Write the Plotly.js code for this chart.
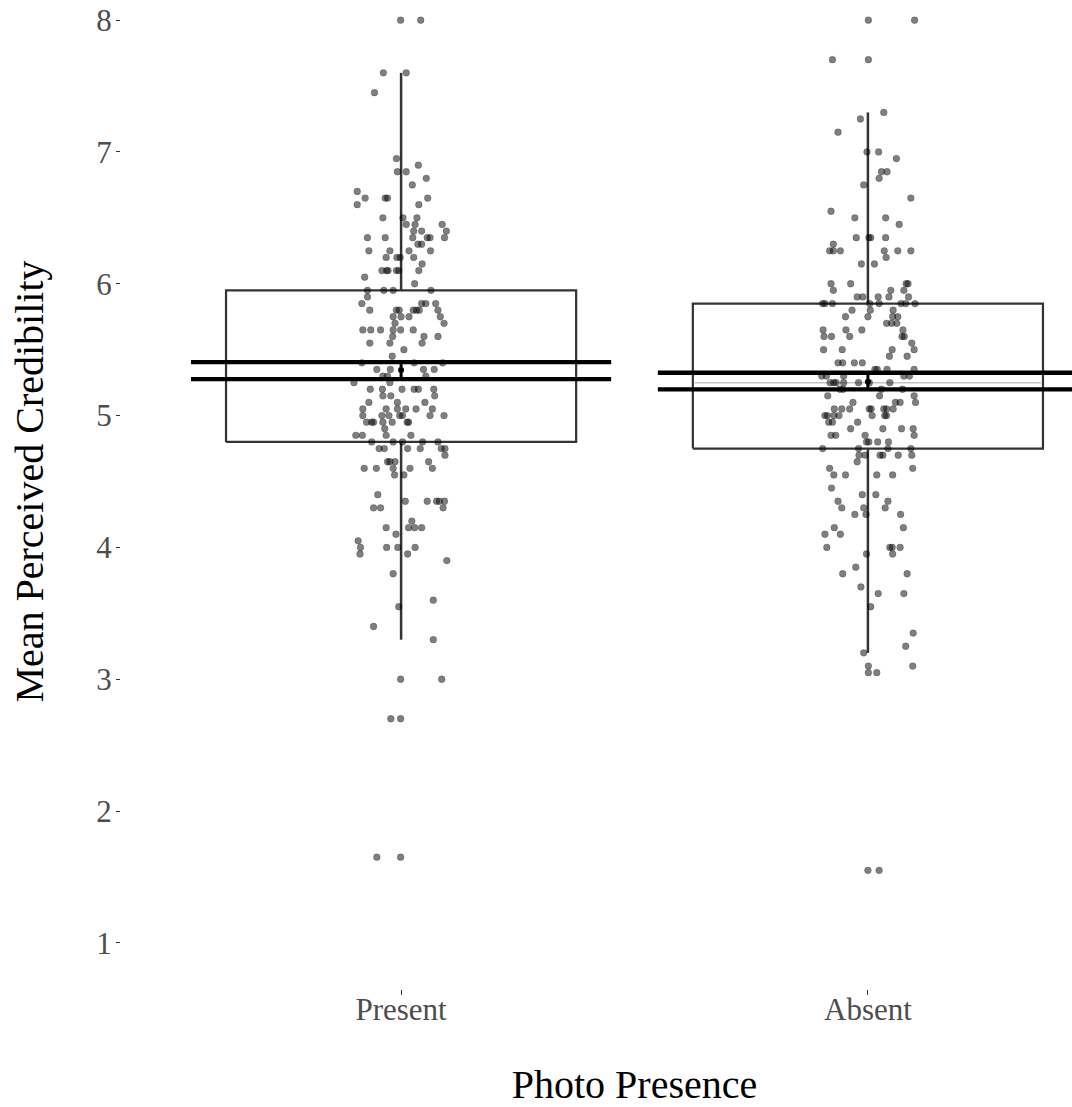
<!DOCTYPE html>
<html>
<head>
<meta charset="utf-8">
<script src="https://cdn.plot.ly/plotly-3.0.1.min.js"></script>
<style>
html, body { margin: 0; padding: 0; overflow: hidden; background: #fff; }
#chart { width: 1148px; height: 1133px; margin-top: -26px; }
</style>
</head>
<body>
<div id="chart"></div>
<script>
// ---------------- data ----------------
const categories = ['Present', 'Absent'];
const tickValuesY = [1, 2, 3, 4, 5, 6, 7, 8];

// box summary per category
const q1 = [4.80, 4.75];
const median = [5.40, 5.25];
const q3 = [5.95, 5.85];
const whiskerLow = [3.30, 3.20];
const whiskerHigh = [7.60, 7.30];

// mean with confidence interval per category
const meanValue = [5.345, 5.257];
const ciLow = [5.277, 5.199];
const ciHigh = [5.406, 5.325];

// raw observations: [value, [jitter offsets of observations with that value]]
const presentRows = [
  [8.00, [-0.001, 0.042]],
  [7.60, [-0.038, 0.011]],
  [7.45, [-0.057]],
  [6.95, [-0.010]],
  [6.90, [0.037]],
  [6.85, [-0.008, 0.011]],
  [6.80, [0.054]],
  [6.75, [0.024]],
  [6.70, [-0.094]],
  [6.65, [-0.077, -0.034, -0.029, 0.057]],
  [6.60, [-0.094, 0.038]],
  [6.50, [-0.039, 0.004, 0.034]],
  [6.45, [0.011, 0.030, 0.088]],
  [6.40, [0.027, 0.044, 0.097]],
  [6.35, [-0.072, -0.034, 0.025, 0.056, 0.062, 0.093]],
  [6.30, [0.036, 0.044]],
  [6.25, [-0.069, -0.024, 0.017, 0.063]],
  [6.20, [-0.032, -0.009, -0.002, 0.027]],
  [6.15, [0.045]],
  [6.10, [-0.041, -0.031, -0.028, -0.010, -0.005, 0.038]],
  [6.05, [-0.078]],
  [6.00, [0.029]],
  [5.95, [-0.072, -0.037, -0.017, 0.064]],
  [5.90, [-0.072]],
  [5.85, [-0.084, 0.044, 0.053, 0.074]],
  [5.80, [-0.067, -0.010, -0.004, 0.026, 0.033, 0.039, 0.079]],
  [5.75, [-0.017, 0.000, 0.017, 0.084]],
  [5.70, [-0.013, 0.092]],
  [5.65, [-0.082, -0.065, -0.044, -0.017, -0.001, 0.026]],
  [5.60, [-0.018, 0.049, 0.079]],
  [5.55, [-0.067, -0.024, 0.045]],
  [5.50, [0.006]],
  [5.45, [-0.019]],
  [5.40, [-0.084, 0.028, 0.089]],
  [5.35, [-0.052, -0.023, 0.048, 0.071]],
  [5.30, [-0.039, -0.029, 0.053]],
  [5.25, [-0.101, -0.024]],
  [5.20, [-0.066, -0.040, 0.002, 0.028, 0.037, 0.070]],
  [5.15, [-0.039, -0.022, 0.072]],
  [5.10, [-0.069, -0.008, 0.051]],
  [5.05, [-0.082, -0.032, -0.008, 0.010, 0.032, 0.067]],
  [5.00, [-0.082, -0.041, -0.026, -0.003, 0.003, 0.062, 0.092]],
  [4.95, [-0.074, -0.063, -0.059, -0.039, -0.019, 0.013, 0.016]],
  [4.90, [-0.035]],
  [4.85, [-0.097, -0.083, -0.032, 0.021]],
  [4.80, [-0.063, -0.017, 0.003, 0.046, 0.079]],
  [4.75, [-0.047, -0.036, 0.014, 0.041, 0.086, 0.094]],
  [4.70, [0.094]],
  [4.65, [-0.029, -0.024, -0.013, 0.059]],
  [4.60, [-0.079, -0.053, -0.017, 0.019, 0.067]],
  [4.55, [-0.014, 0.006]],
  [4.40, [-0.050]],
  [4.35, [0.009, 0.056, 0.076, 0.082, 0.093]],
  [4.30, [-0.059, -0.044, 0.090]],
  [4.20, [0.023]],
  [4.15, [-0.032, 0.016, 0.029, 0.044]],
  [4.10, [-0.011]],
  [4.05, [-0.092]],
  [4.00, [-0.087, -0.031, -0.007, 0.030]],
  [3.95, [-0.088, 0.014]],
  [3.90, [0.098]],
  [3.80, [-0.017]],
  [3.60, [0.069]],
  [3.55, [-0.005]],
  [3.40, [-0.059]],
  [3.30, [0.069]],
  [3.00, [-0.001, 0.087]],
  [2.70, [-0.022, -0.001]],
  [1.65, [-0.052, -0.001]]
];

const absentRows = [
  [8.00, [0.001, 0.100]],
  [7.70, [-0.076, 0.001]],
  [7.30, [0.034]],
  [7.25, [-0.016]],
  [7.15, [-0.064]],
  [7.00, [-0.002, 0.023]],
  [6.95, [0.061]],
  [6.85, [0.029, 0.041]],
  [6.80, [0.024]],
  [6.75, [-0.009]],
  [6.65, [0.092]],
  [6.55, [-0.079]],
  [6.50, [-0.028, 0.038]],
  [6.45, [0.067]],
  [6.35, [-0.025, 0.002, 0.006, 0.038]],
  [6.30, [-0.074]],
  [6.25, [-0.082, -0.074, -0.059, 0.035, 0.064, 0.092]],
  [6.20, [0.039]],
  [6.15, [-0.014, 0.014]],
  [6.00, [-0.079, -0.037, 0.082, 0.086]],
  [5.95, [-0.074, 0.049, 0.077]],
  [5.90, [-0.023, -0.011, 0.022, 0.045, 0.087]],
  [5.85, [-0.097, -0.092, -0.076, 0.004, 0.024, 0.071, 0.081, 0.101]],
  [5.80, [-0.034, 0.005, 0.054]],
  [5.75, [-0.048, 0.000, 0.053, 0.064]],
  [5.70, [0.040, 0.051, 0.062]],
  [5.65, [-0.096, -0.047, -0.013, 0.075]],
  [5.60, [-0.094, -0.078, -0.039, 0.073, 0.078]],
  [5.55, [0.094]],
  [5.50, [-0.095, -0.055, 0.052, 0.099]],
  [5.45, [0.046, 0.084]],
  [5.40, [-0.064, -0.054, -0.029, -0.012]],
  [5.35, [0.015, 0.020, 0.041, 0.099]],
  [5.30, [-0.099, -0.089, -0.052, 0.077, 0.089]],
  [5.25, [-0.081, -0.073, -0.068, -0.052, -0.020, 0.003, 0.047]],
  [5.20, [-0.060, -0.053, 0.029, 0.074]],
  [5.15, [-0.086, 0.025, 0.099]],
  [5.10, [-0.032, 0.059, 0.069, 0.102]],
  [5.05, [-0.072, -0.056, -0.039, 0.003, 0.007, 0.034, 0.040, 0.054]],
  [5.00, [-0.092, -0.087, -0.073, -0.062, 0.009, 0.036, 0.040]],
  [4.95, [-0.084, -0.076, -0.022]],
  [4.90, [-0.037, 0.032, 0.072, 0.097]],
  [4.85, [-0.079, -0.069, -0.006, 0.099]],
  [4.80, [-0.003, 0.002, 0.021, 0.044]],
  [4.75, [-0.097, -0.020, 0.043, 0.092]],
  [4.70, [-0.019, -0.006, 0.026, 0.032, 0.065, 0.094]],
  [4.65, [-0.023]],
  [4.60, [-0.082, 0.096]],
  [4.55, [-0.073, -0.048, 0.019, 0.053]],
  [4.45, [-0.078]],
  [4.40, [-0.012, 0.017]],
  [4.35, [-0.064, 0.043]],
  [4.30, [-0.056, -0.009, 0.037]],
  [4.25, [-0.028, -0.004, 0.070]],
  [4.15, [-0.072, 0.076]],
  [4.10, [-0.092, -0.059]],
  [4.00, [-0.088, 0.047, 0.052, 0.069]],
  [3.95, [-0.003, 0.053]],
  [3.85, [-0.026]],
  [3.80, [-0.054, 0.084]],
  [3.70, [-0.015]],
  [3.65, [0.022, 0.077]],
  [3.55, [0.006]],
  [3.35, [0.097]],
  [3.25, [0.081]],
  [3.20, [-0.009]],
  [3.10, [0.001, 0.096]],
  [3.05, [0.001, 0.019]],
  [1.55, [0.000, 0.024]]
];

// ---------------- drawing ----------------
const FONT = 'Liberation Serif, Times New Roman, serif';
const BOX_HALF = 0.375;
const MEAN_HALF = 0.45;
const catPos = categories.map((c, i) => i + 1);

function flatten(rows, center) {
  const xs = [], ys = [];
  rows.forEach(([v, offs]) => offs.forEach(o => { xs.push(center + o); ys.push(v); }));
  return { xs, ys };
}

const traces = [];

// boxes
catPos.forEach((c, i) => {
  traces.push({
    type: 'scatter', mode: 'lines', hoverinfo: 'skip', showlegend: false,
    x: [c - BOX_HALF, c + BOX_HALF, c + BOX_HALF, c - BOX_HALF, c - BOX_HALF],
    y: [q1[i], q1[i], q3[i], q3[i], q1[i]],
    line: { color: '#333333', width: 2.2 }
  });
  traces.push({
    type: 'scatter', mode: 'lines', hoverinfo: 'skip', showlegend: false,
    x: [c, c, null, c, c],
    y: [q3[i], whiskerHigh[i], null, q1[i], whiskerLow[i]],
    line: { color: '#333333', width: 2.5 }
  });
  traces.push({
    type: 'scatter', mode: 'lines', hoverinfo: 'skip', showlegend: false,
    x: [c - BOX_HALF + 0.004, c + BOX_HALF - 0.004],
    y: [median[i], median[i]],
    line: { color: '#c4c4c4', width: 1.5 }
  });
});

// jittered observations
[presentRows, absentRows].forEach((rows, i) => {
  const p = flatten(rows, catPos[i]);
  traces.push({
    type: 'scatter', mode: 'markers', showlegend: false, name: categories[i],
    x: p.xs, y: p.ys,
    marker: { size: 6.8, color: 'rgba(0,0,0,0.5)', line: { color: 'rgba(0,0,0,0.3)', width: 0.6 } }
  });
});

// mean confidence interval lines and pointrange
catPos.forEach((c, i) => {
  traces.push({
    type: 'scatter', mode: 'lines', hoverinfo: 'skip', showlegend: false,
    x: [c - MEAN_HALF, c + MEAN_HALF, null, c - MEAN_HALF, c + MEAN_HALF],
    y: [ciLow[i], ciLow[i], null, ciHigh[i], ciHigh[i]],
    line: { color: '#000000', width: 4.3 }
  });
  traces.push({
    type: 'scatter', mode: 'lines', hoverinfo: 'skip', showlegend: false,
    x: [c, c], y: [ciLow[i], ciHigh[i]],
    line: { color: '#000000', width: 3 }
  });
  traces.push({
    type: 'scatter', mode: 'markers', hoverinfo: 'skip', showlegend: false,
    x: [c], y: [meanValue[i]],
    marker: { size: 6, color: '#000000' }
  });
});

const layout = {
  width: 1148, height: 1133,
  margin: { l: 121, r: 0, t: 0, b: 118 },
  paper_bgcolor: '#ffffff', plot_bgcolor: '#ffffff',
  showlegend: false,
  xaxis: {
    range: [0.4, 2.6],
    tickmode: 'array', tickvals: catPos, ticktext: categories,
    showgrid: false, zeroline: false, showline: false,
    ticks: 'outside', ticklen: 5, tickwidth: 1, tickcolor: '#333333',
    ticklabelstandoff: -12,
    tickfont: { family: FONT, size: 31, color: '#4d4d4d' },
    title: { text: 'Photo Presence', font: { family: FONT, size: 40, color: '#000000' }, standoff: 44 }
  },
  yaxis: {
    range: [0.65, 8.35],
    tickmode: 'array', tickvals: tickValuesY, ticktext: tickValuesY.map(String),
    showgrid: false, zeroline: false, showline: false,
    ticks: 'outside', ticklen: 4, tickwidth: 1, tickcolor: '#333333',
    ticklabelstandoff: -2,
    tickfont: { family: FONT, size: 31, color: '#4d4d4d' },
    title: { text: 'Mean Perceived Credibility', font: { family: FONT, size: 40, color: '#000000' }, standoff: 40 }
  }
};

Plotly.newPlot('chart', traces, layout, { staticPlot: true, displayModeBar: false });
</script>
</body>
</html>
